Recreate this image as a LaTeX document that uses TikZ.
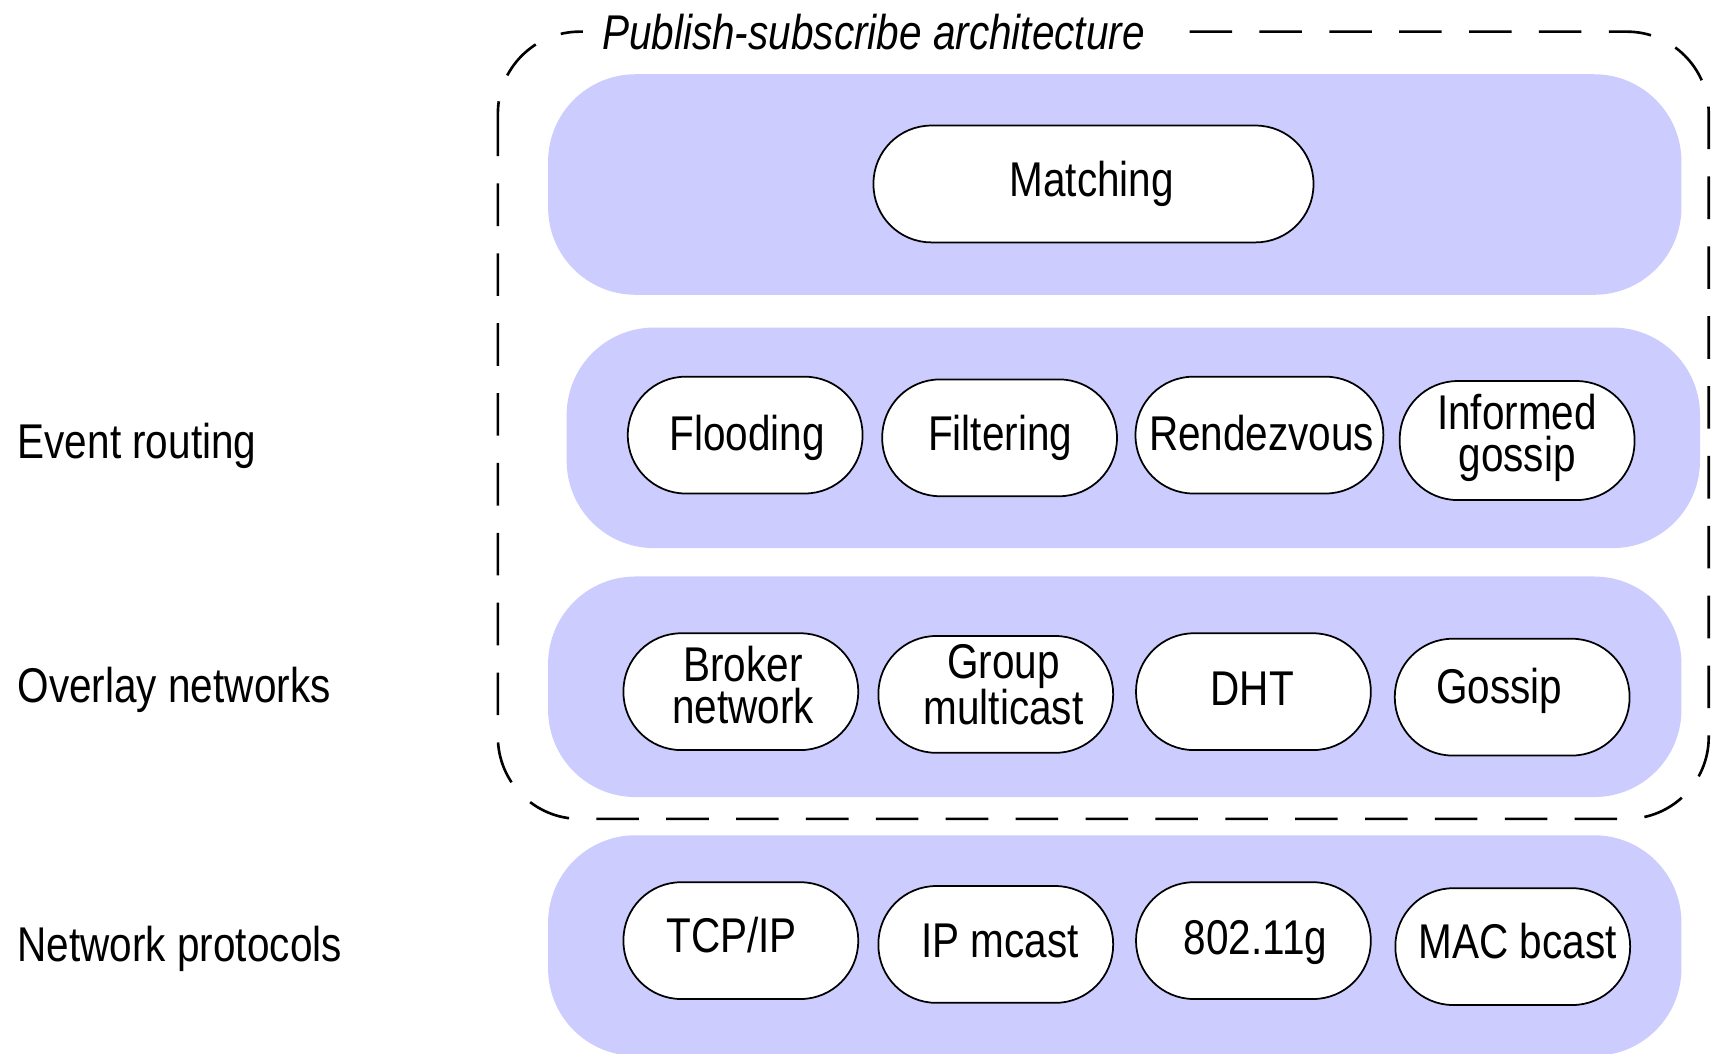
\documentclass[tikz,border=0pt]{standalone}
\usepackage{fontspec}
\setmainfont{Liberation Sans}[FakeStretch=0.83]
\definecolor{bandc}{RGB}{204,204,255}
\begin{document}
\begin{tikzpicture}[x=1pt,y=-1pt,
  bandbox/.style={fill=bandc, draw=none, rounded corners=80pt, minimum width=1038pt, minimum height=202pt, inner sep=0pt},
  pill/.style={draw=black, line width=1.6pt, fill=white, rounded corners=53pt, minimum width=215pt, minimum height=107pt, inner sep=0pt},
  txt/.style={font=\fontsize{44.7}{39}\selectfont, anchor=base, align=center, inner sep=0pt, text=black},
  lbl/.style={txt, anchor=base west},
  framebox/.style={draw=black, line width=2.4pt, dash pattern=on 39pt off 25pt, rounded corners=75pt}]
\useasboundingbox (0,0) rectangle (1568,965.3);
% bands
\node[bandbox] (b1) at (1021,169) {};
\node[bandbox] (b2) at (1038,401) {};
\node[bandbox] (b3) at (1021,629) {};
\node[bandbox] (b4) at (1021,866) {};
% dashed frame
\draw[framebox] (456,29) rectangle (1565,750);
\node[txt, fill=white, inner xsep=18pt, inner ysep=4pt, font=\fontsize{44.7}{39}\selectfont\itshape] (title) at (800,45) {Publish-subscribe architecture};
% pills
\node[pill, minimum width=403pt] (match) at (1001.5,168.5) {};
\node[pill] (flood) at (682.5,398.5) {};
\node[pill] (filter) at (915.5,401) {};
\node[pill, minimum width=227pt] (rendez) at (1153.5,398.5) {};
\node[pill, minimum height=109pt] (inform) at (1389.5,403.5) {};
\node[pill] (broker) at (678.5,633.5) {};
\node[pill] (group) at (912,636) {};
\node[pill] (dht) at (1148,633.5) {};
\node[pill] (gossip) at (1385,638.5) {};
\node[pill] (tcp) at (678.5,861.5) {};
\node[pill] (ipm) at (912,865) {};
\node[pill] (wifi) at (1148,861.5) {};
\node[pill] (mac) at (1385.5,867) {};
% texts
\node[txt] (matchT) at (1000,180) {Matching};
\node[txt] (floodT) at (684.5,413) {Flooding};
\node[txt] (filterT) at (916,413) {Filtering};
\node[txt] (rendezT) at (1155.5,413) {Rendezvous};
\node[txt] (informT) at (1389.5,432) {Informed\\gossip};
\node[txt] (brokerT) at (680.5,663) {Broker\\network};
\node[txt] (groupT) at (919,664) {Group\\multicast};
\node[txt] (dhtT) at (1147,646) {DHT};
\node[txt] (gossipT) at (1373,644) {Gossip};
\node[txt] (tcpT) at (670,872) {TCP/IP};
\node[txt] (ipmT) at (916,877) {IP mcast};
\node[txt] (wifiT) at (1150,874) {802.11g};
\node[txt] (macT) at (1390,878) {MAC bcast};
% left labels
\node[lbl] (evr) at (16,420) {Event routing};
\node[lbl] (ovl) at (16,643) {Overlay networks};
\node[lbl] (netp) at (16,881) {Network protocols};
\end{tikzpicture}
\end{document}
